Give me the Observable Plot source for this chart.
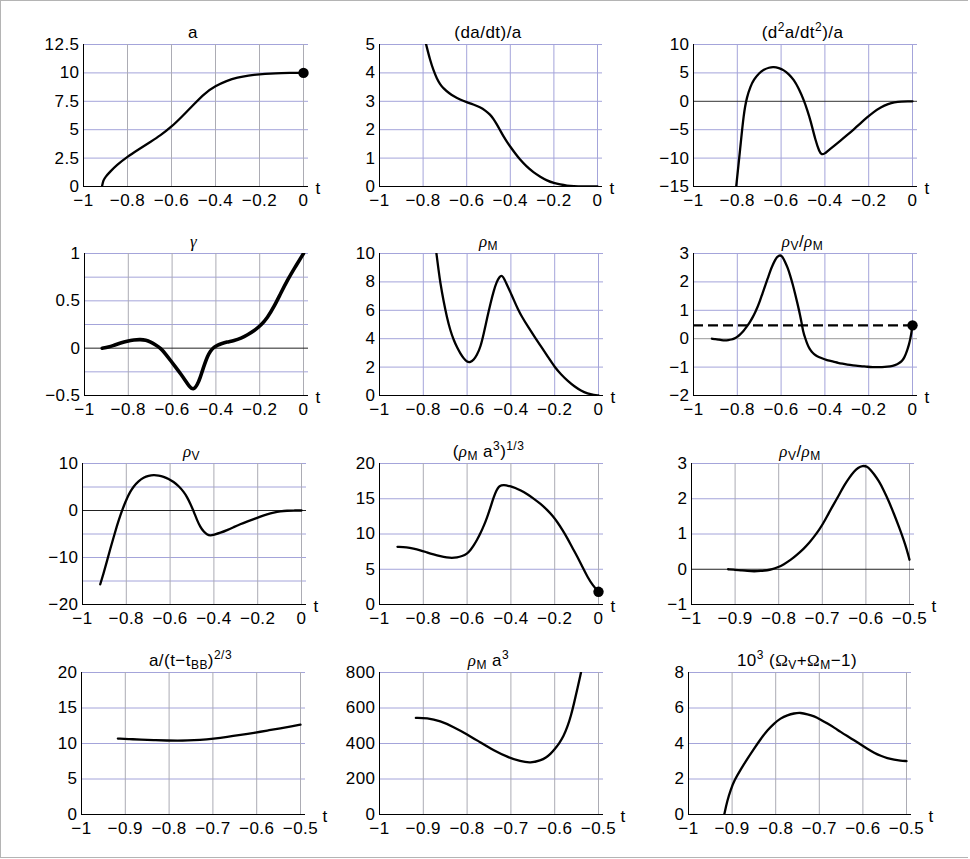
<!DOCTYPE html>
<html><head><meta charset="utf-8">
<script src="https://cdn.jsdelivr.net/npm/d3@7"></script>
<script src="https://cdn.jsdelivr.net/npm/@observablehq/plot@0.6"></script>
<style>
body{margin:0;background:#fff;}
#wrap{position:relative;width:970px;height:859px;overflow:hidden;background:#fff;}
#wrap svg{position:absolute;overflow:visible;}
.frame{position:absolute;left:0;top:0;width:968px;height:858px;border-left:1px solid #b4b4b4;border-top:1px solid #b4b4b4;border-bottom:1px solid #b4b4b4;box-sizing:border-box}
</style></head><body><div id="wrap"><div class="frame"></div></div>
<script>
// ---------- data ----------
const xTicksA = [-1, -0.8, -0.6, -0.4, -0.2, 0];
const xTicksB = [-1, -0.9, -0.8, -0.7, -0.6, -0.5];

const aT = [-0.916, -0.91, -0.9, -0.88, -0.85, -0.8, -0.75, -0.7, -0.65, -0.6, -0.55, -0.5, -0.45, -0.4, -0.35, -0.3, -0.25, -0.2, -0.15, -0.1, -0.05, 0];
const aV = [0, 0.55, 0.85, 1.28, 1.87, 2.63, 3.25, 3.88, 4.5, 5.25, 6.2, 7.2, 8.2, 8.85, 9.3, 9.6, 9.78, 9.88, 9.95, 9.98, 10, 10];

const hT = [-0.786, -0.768, -0.752, -0.737, -0.722, -0.706, -0.68, -0.66, -0.63, -0.6, -0.57, -0.538, -0.515, -0.492, -0.477, -0.462, -0.446, -0.431, -0.415, -0.4, -0.378, -0.355, -0.325, -0.294, -0.262, -0.232, -0.2, -0.171, -0.14, -0.11, -0.07, 0];
const hV = [5, 4.45, 4.08, 3.8, 3.6, 3.45, 3.28, 3.18, 3.06, 2.97, 2.89, 2.79, 2.68, 2.53, 2.38, 2.19, 1.97, 1.76, 1.57, 1.4, 1.17, 0.94, 0.7, 0.5, 0.34, 0.21, 0.12, 0.07, 0.03, 0.01, 0, 0];

const qT = [-0.805, -0.786, -0.771, -0.756, -0.74, -0.725, -0.7, -0.679, -0.655, -0.634, -0.61, -0.588, -0.565, -0.542, -0.52, -0.496, -0.48, -0.466, -0.443, -0.425, -0.415, -0.4, -0.389, -0.36, -0.328, -0.3, -0.267, -0.24, -0.206, -0.18, -0.145, -0.11, -0.084, -0.05, -0.02, 0];
const qV = [-15, -8.1, -2.2, 0.8, 2.6, 3.8, 5.0, 5.6, 5.95, 6.05, 5.85, 5.5, 4.8, 3.8, 2.3, 0.2, -1.6, -3.3, -6.9, -8.9, -9.4, -9.2, -8.8, -7.9, -6.9, -6.0, -4.9, -3.95, -2.8, -1.95, -1.05, -0.45, -0.17, -0.02, 0, 0];

const gT = [-0.919, -0.89, -0.866, -0.835, -0.805, -0.775, -0.744, -0.72, -0.698, -0.675, -0.652, -0.63, -0.607, -0.584, -0.561, -0.54, -0.523, -0.503, -0.485, -0.47, -0.462, -0.45, -0.439, -0.425, -0.409, -0.39, -0.378, -0.35, -0.317, -0.285, -0.256, -0.225, -0.195, -0.165, -0.134, -0.104, -0.073, -0.04, 0];
const gV = [0, 0.01, 0.03, 0.055, 0.075, 0.088, 0.092, 0.085, 0.065, 0.035, 0, -0.06, -0.13, -0.2, -0.27, -0.34, -0.4, -0.445, -0.39, -0.3, -0.24, -0.16, -0.09, -0.03, 0.01, 0.035, 0.045, 0.065, 0.08, 0.105, 0.14, 0.185, 0.24, 0.32, 0.44, 0.58, 0.72, 0.85, 1.0];

const rmT = [-0.74, -0.73, -0.722, -0.707, -0.692, -0.677, -0.661, -0.645, -0.63, -0.615, -0.6, -0.585, -0.57, -0.555, -0.539, -0.524, -0.508, -0.493, -0.478, -0.465, -0.452, -0.44, -0.428, -0.417, -0.4, -0.386, -0.368, -0.35, -0.32, -0.287, -0.26, -0.23, -0.2, -0.17, -0.14, -0.11, -0.08, -0.05, -0.02, 0];
const rmV = [10, 8.8, 7.9, 6.6, 5.5, 4.6, 3.9, 3.35, 2.94, 2.6, 2.35, 2.33, 2.5, 2.85, 3.4, 4.35, 5.5, 6.5, 7.4, 8.0, 8.38, 8.48, 8.15, 7.76, 7.2, 6.7, 6.08, 5.55, 4.8, 4.02, 3.4, 2.7, 2.0, 1.47, 1.02, 0.64, 0.34, 0.14, 0.03, 0];

const ratT = [-0.916, -0.9, -0.887, -0.872, -0.856, -0.841, -0.826, -0.815, -0.803, -0.788, -0.773, -0.758, -0.742, -0.73, -0.719, -0.707, -0.696, -0.685, -0.673, -0.661, -0.65, -0.638, -0.627, -0.618, -0.608, -0.597, -0.59, -0.582, -0.57, -0.559, -0.547, -0.536, -0.524, -0.513, -0.506, -0.5, -0.49, -0.48, -0.47, -0.46, -0.45, -0.435, -0.42, -0.4, -0.389, -0.36, -0.34, -0.32, -0.298, -0.27, -0.25, -0.23, -0.206, -0.18, -0.16, -0.14, -0.115, -0.09, -0.069, -0.055, -0.046, -0.038, -0.031, -0.023, -0.015, -0.01, -0.005, 0];
const ratV = [0, -0.015, -0.03, -0.05, -0.06, -0.05, -0.03, 0, 0.05, 0.14, 0.26, 0.41, 0.59, 0.75, 0.92, 1.12, 1.34, 1.6, 1.86, 2.12, 2.38, 2.6, 2.78, 2.88, 2.94, 2.92, 2.83, 2.71, 2.5, 2.24, 1.92, 1.58, 1.2, 0.82, 0.55, 0.27, 0.02, -0.2, -0.36, -0.46, -0.54, -0.62, -0.67, -0.73, -0.76, -0.81, -0.85, -0.88, -0.91, -0.94, -0.96, -0.97, -0.99, -1.0, -1.0, -1.0, -0.99, -0.96, -0.9, -0.83, -0.76, -0.67, -0.55, -0.38, -0.18, 0, 0.2, 0.47];
const ratNow = 0.47;

const rvT = [-0.919, -0.904, -0.889, -0.874, -0.858, -0.843, -0.828, -0.812, -0.797, -0.782, -0.767, -0.744, -0.721, -0.698, -0.675, -0.652, -0.63, -0.607, -0.584, -0.561, -0.538, -0.523, -0.508, -0.492, -0.477, -0.462, -0.447, -0.432, -0.416, -0.4, -0.37, -0.34, -0.31, -0.28, -0.249, -0.218, -0.188, -0.157, -0.127, -0.096, -0.066, -0.035, 0];
const rvV = [-15.7, -13.4, -10.9, -8.3, -5.7, -3.3, -1.1, 0.9, 2.6, 4.0, 5.1, 6.3, 7.0, 7.4, 7.55, 7.45, 7.2, 6.75, 6.1, 5.2, 4.0, 2.9, 1.5, -0.2, -2.06, -3.5, -4.5, -5.1, -5.35, -5.15, -4.75, -4.2, -3.55, -2.9, -2.35, -1.84, -1.3, -0.8, -0.42, -0.16, -0.04, 0, 0];

const mcT = [-0.918, -0.875, -0.845, -0.814, -0.784, -0.753, -0.722, -0.692, -0.67, -0.646, -0.623, -0.6, -0.585, -0.569, -0.554, -0.539, -0.523, -0.508, -0.493, -0.478, -0.466, -0.455, -0.443, -0.432, -0.417, -0.402, -0.38, -0.356, -0.325, -0.295, -0.265, -0.234, -0.21, -0.188, -0.165, -0.142, -0.12, -0.096, -0.073, -0.05, -0.027, 0];
const mcV = [8.18, 8.13, 7.95, 7.7, 7.4, 7.1, 6.85, 6.67, 6.6, 6.67, 6.85, 7.2, 7.7, 8.4, 9.2, 10.1, 11.2, 12.4, 13.8, 15.3, 16.2, 16.75, 16.9, 16.95, 16.85, 16.8, 16.55, 16.2, 15.65, 15.0, 14.3, 13.4, 12.6, 11.7, 10.6, 9.4, 8.1, 6.76, 5.3, 3.9, 2.74, 1.8];

const sT = [-0.917, -0.89, -0.865, -0.835, -0.804, -0.78, -0.759, -0.73, -0.698, -0.667, -0.637, -0.606, -0.576, -0.545, -0.52, -0.5];
const sV = [10.7, 10.62, 10.54, 10.47, 10.42, 10.4, 10.42, 10.5, 10.68, 10.92, 11.2, 11.5, 11.82, 12.15, 12.42, 12.65];

const ma3T = [-0.917, -0.892, -0.861, -0.831, -0.8, -0.769, -0.739, -0.708, -0.678, -0.655, -0.632, -0.62, -0.609, -0.6, -0.59, -0.58, -0.571, -0.563, -0.556, -0.548, -0.54];
const ma3V = [544, 544, 527, 493, 452, 405, 361, 324, 299, 290, 305, 320, 343, 368, 399, 440, 493, 555, 625, 710, 800];

const omT = [-0.918, -0.911, -0.903, -0.895, -0.88, -0.865, -0.85, -0.834, -0.819, -0.804, -0.789, -0.773, -0.758, -0.743, -0.727, -0.712, -0.697, -0.681, -0.666, -0.651, -0.636, -0.62, -0.605, -0.59, -0.574, -0.559, -0.544, -0.528, -0.514, -0.5];
const omV = [0, 0.79, 1.4, 1.92, 2.55, 3.14, 3.7, 4.27, 4.75, 5.12, 5.42, 5.6, 5.7, 5.74, 5.65, 5.54, 5.35, 5.12, 4.9, 4.65, 4.42, 4.18, 3.94, 3.7, 3.47, 3.3, 3.17, 3.08, 3.03, 3.01];

const titles = ["a", "(da/dt)/a", "(d^{2}a/dt^{2})/a", "γ", "ρ_{M}", "ρ_{V}/ρ_{M}", "ρ_{V}", "(ρ_{M} a^{3})^{1/3}", "ρ_{V}/ρ_{M}", "a/(t−t_{BB})^{2/3}", "ρ_{M} a^{3}", "10^{3} (Ω_{V}+Ω_{M}−1)"];

// ---------- drawing ----------
const FONT = "'Liberation Sans', Arial, Helvetica, sans-serif";
const FS = 17;
const LS = "0.45px";
const BLUE = "#a4a4da", GRAY = "#acacb4";
const fmt = d => (d < 0 ? "−" : "") + String(Math.abs(d));
const zip = (T, V) => T.map((t, i) => ({t, v: V[i]}));

const panels = [
  {L:83, R:303, T:44, B:186, data: zip(aT, aV), xTicks: xTicksA, y:[0,12.5], yTicks:[0,2.5,5,7.5,10,12.5], yGrid:[2.5,5,7.5,10,12.5], vGrid: GRAY, dot:[0, aV[aV.length-1]]},
  {L:379, R:597, T:44, B:186, data: zip(hT, hV), xTicks: xTicksA, y:[0,5], yTicks:[0,1,2,3,4,5], yGrid:[1,2,3,4,5], vGrid: BLUE},
  {L:693, R:912, T:44, B:186, data: zip(qT, qV), xTicks: xTicksA, y:[-15,10], yTicks:[-15,-10,-5,0,5,10], yGrid:[-10,-5,5,10], vGrid: BLUE, zero:"#333"},
  {L:84, R:303, T:253, B:395, data: zip(gT, gV), xTicks: xTicksA, y:[-0.5,1], yTicks:[-0.5,0,0.5,1], yGrid:[-0.25,0.25,0.5,0.75,1], vGrid: GRAY, zero:"#222", sw:3.6},
  {L:379, R:598, T:253, B:395, data: zip(rmT, rmV), xTicks: xTicksA, y:[0,10], yTicks:[0,2,4,6,8,10], yGrid:[2,4,6,8,10], vGrid: BLUE},
  {L:693, R:912, T:253, B:395, data: zip(ratT, ratV), xTicks: xTicksA, y:[-2,3], yTicks:[-2,-1,0,1,2,3], yGrid:[-1,1,2,3], vGrid: BLUE, zero:"#999", dash: ratNow, dot:[0, ratNow]},
  {L:82, R:301, T:463, B:604, data: zip(rvT, rvV), xTicks: xTicksA, y:[-20,10], yTicks:[-20,-10,0,10], yGrid:[-15,-10,-5,5,10], vGrid: GRAY, zero:"#222"},
  {L:379, R:598, T:463, B:604, data: zip(mcT, mcV), xTicks: xTicksA, y:[0,20], yTicks:[0,5,10,15,20], yGrid:[5,10,15,20], vGrid: GRAY, dot:[0, mcV[mcV.length-1]]},
  {L:691, R:909, T:463, B:604, data: zip(ratT, ratV).filter(d => d.t <= -0.5), xTicks: xTicksB, y:[-1,3], yTicks:[-1,0,1,2,3], yGrid:[1,2,3], vGrid: GRAY, zero:"#222"},
  {L:81, R:300, T:672, B:814, data: zip(sT, sV), xTicks: xTicksB, y:[0,20], yTicks:[0,5,10,15,20], yGrid:[5,10,15,20], vGrid: GRAY},
  {L:379, R:598, T:672, B:814, data: zip(ma3T, ma3V), xTicks: xTicksB, y:[0,800], yTicks:[0,200,400,600,800], yGrid:[200,400,600,800], vGrid: GRAY},
  {L:688, R:906, T:672, B:814, data: zip(omT, omV), xTicks: xTicksB, y:[0,8], yTicks:[0,2,4,6,8], yGrid:[2,4,6,8], vGrid: GRAY}
];

function addTitle(svg, cx, y, spec) {
  const t = d3.select(svg).append("text").attr("x", cx).attr("y", y)
    .attr("text-anchor", "middle").attr("fill", "#000")
    .style("font-family", FONT).style("font-size", FS + "px").style("letter-spacing", LS).style("white-space", "pre");
  const segs = [];
  let i = 0;
  while (i < spec.length) {
    if ((spec[i] === "_" || spec[i] === "^") && spec[i + 1] === "{") {
      const j = spec.indexOf("}", i);
      segs.push({s: spec.slice(i + 2, j), shift: spec[i] === "_" ? 3.5 : -7, small: true});
      i = j + 1;
    } else { segs.push({s: spec[i], shift: 0}); i++; }
  }
  let off = 0;
  for (const g of segs) {
    const ts = t.append("tspan").text(g.s).attr("dy", g.shift - off);
    off = g.shift;
    if (g.small) ts.style("font-size", "12px");
    if (/[ργ]/.test(g.s)) ts.style("font-family", "'Liberation Serif', 'DejaVu Serif', serif").style("font-style", "italic");
    if (/Ω/.test(g.s)) ts.style("font-family", "'Liberation Serif', 'DejaVu Serif', serif");
  }
}

const wrap = document.getElementById("wrap");
panels.forEach((p, k) => {
  const mL = 62, mR = 48, mT = 34, mB = 32;
  const w = p.R - p.L, h = p.B - p.T;
  const xmax = p.xTicks[p.xTicks.length - 1];
  const x1 = xmax + 5 * (xmax + 1) / w;
  const marks = [
    Plot.gridY(p.yGrid, {stroke: BLUE, strokeOpacity: 1, strokeWidth: 1}),
    Plot.gridX(p.xTicks.filter(d => d !== -1), {stroke: p.vGrid, strokeOpacity: 1, strokeWidth: 1})
  ];
  if (p.zero) marks.push(Plot.ruleY([0], {stroke: p.zero, strokeWidth: 1}));
  marks.push(Plot.ruleX([-1], {stroke: "#000", strokeWidth: 1}));
  marks.push(Plot.ruleY([p.y[0]], {stroke: "#000", strokeWidth: 1}));
  if (p.dash != null) marks.push(Plot.ruleY([p.dash], {x1: -1, x2: 0, stroke: "#000", strokeWidth: 2.4, strokeDasharray: "10,5"}));
  marks.push(Plot.line(p.data, {x: "t", y: "v", curve: "basis", stroke: "#000", strokeWidth: p.sw || 2.3, clip: true}));
  if (p.dot) marks.push(Plot.dot([p.dot], {x: d => d[0], y: d => d[1], r: 5.2, fill: "#000", stroke: null}));
  marks.push(Plot.axisX(p.xTicks, {tickSize: 0, tickPadding: 7, tickFormat: fmt, label: null}));
  marks.push(Plot.axisY(p.yTicks, {tickSize: 0, tickPadding: 4, tickFormat: fmt, label: null}));
  marks.push(Plot.text(["t"], {x: () => xmax, y: () => p.y[0], text: d => d, dx: xmax === 0 ? 12 : 22, dy: 1.6, textAnchor: "start", lineAnchor: "middle"}));
  const svg = Plot.plot({
    width: mL + w + 5 + mR, height: mT + h + mB,
    marginLeft: mL, marginRight: mR, marginTop: mT, marginBottom: mB,
    x: {domain: [-1, x1], label: null},
    y: {domain: p.y, label: null},
    style: {fontFamily: FONT, fontSize: FS + "px", letterSpacing: LS, background: "transparent", color: "#000", overflow: "visible"},
    marks
  });
  svg.style.left = (p.L - mL) + "px";
  svg.style.top = (p.T - mT) + "px";
  svg.style.maxWidth = "none";
  addTitle(svg, mL + w / 2, mT - 6.5, titles[k]);
  wrap.appendChild(svg);
});
</script></body></html>
